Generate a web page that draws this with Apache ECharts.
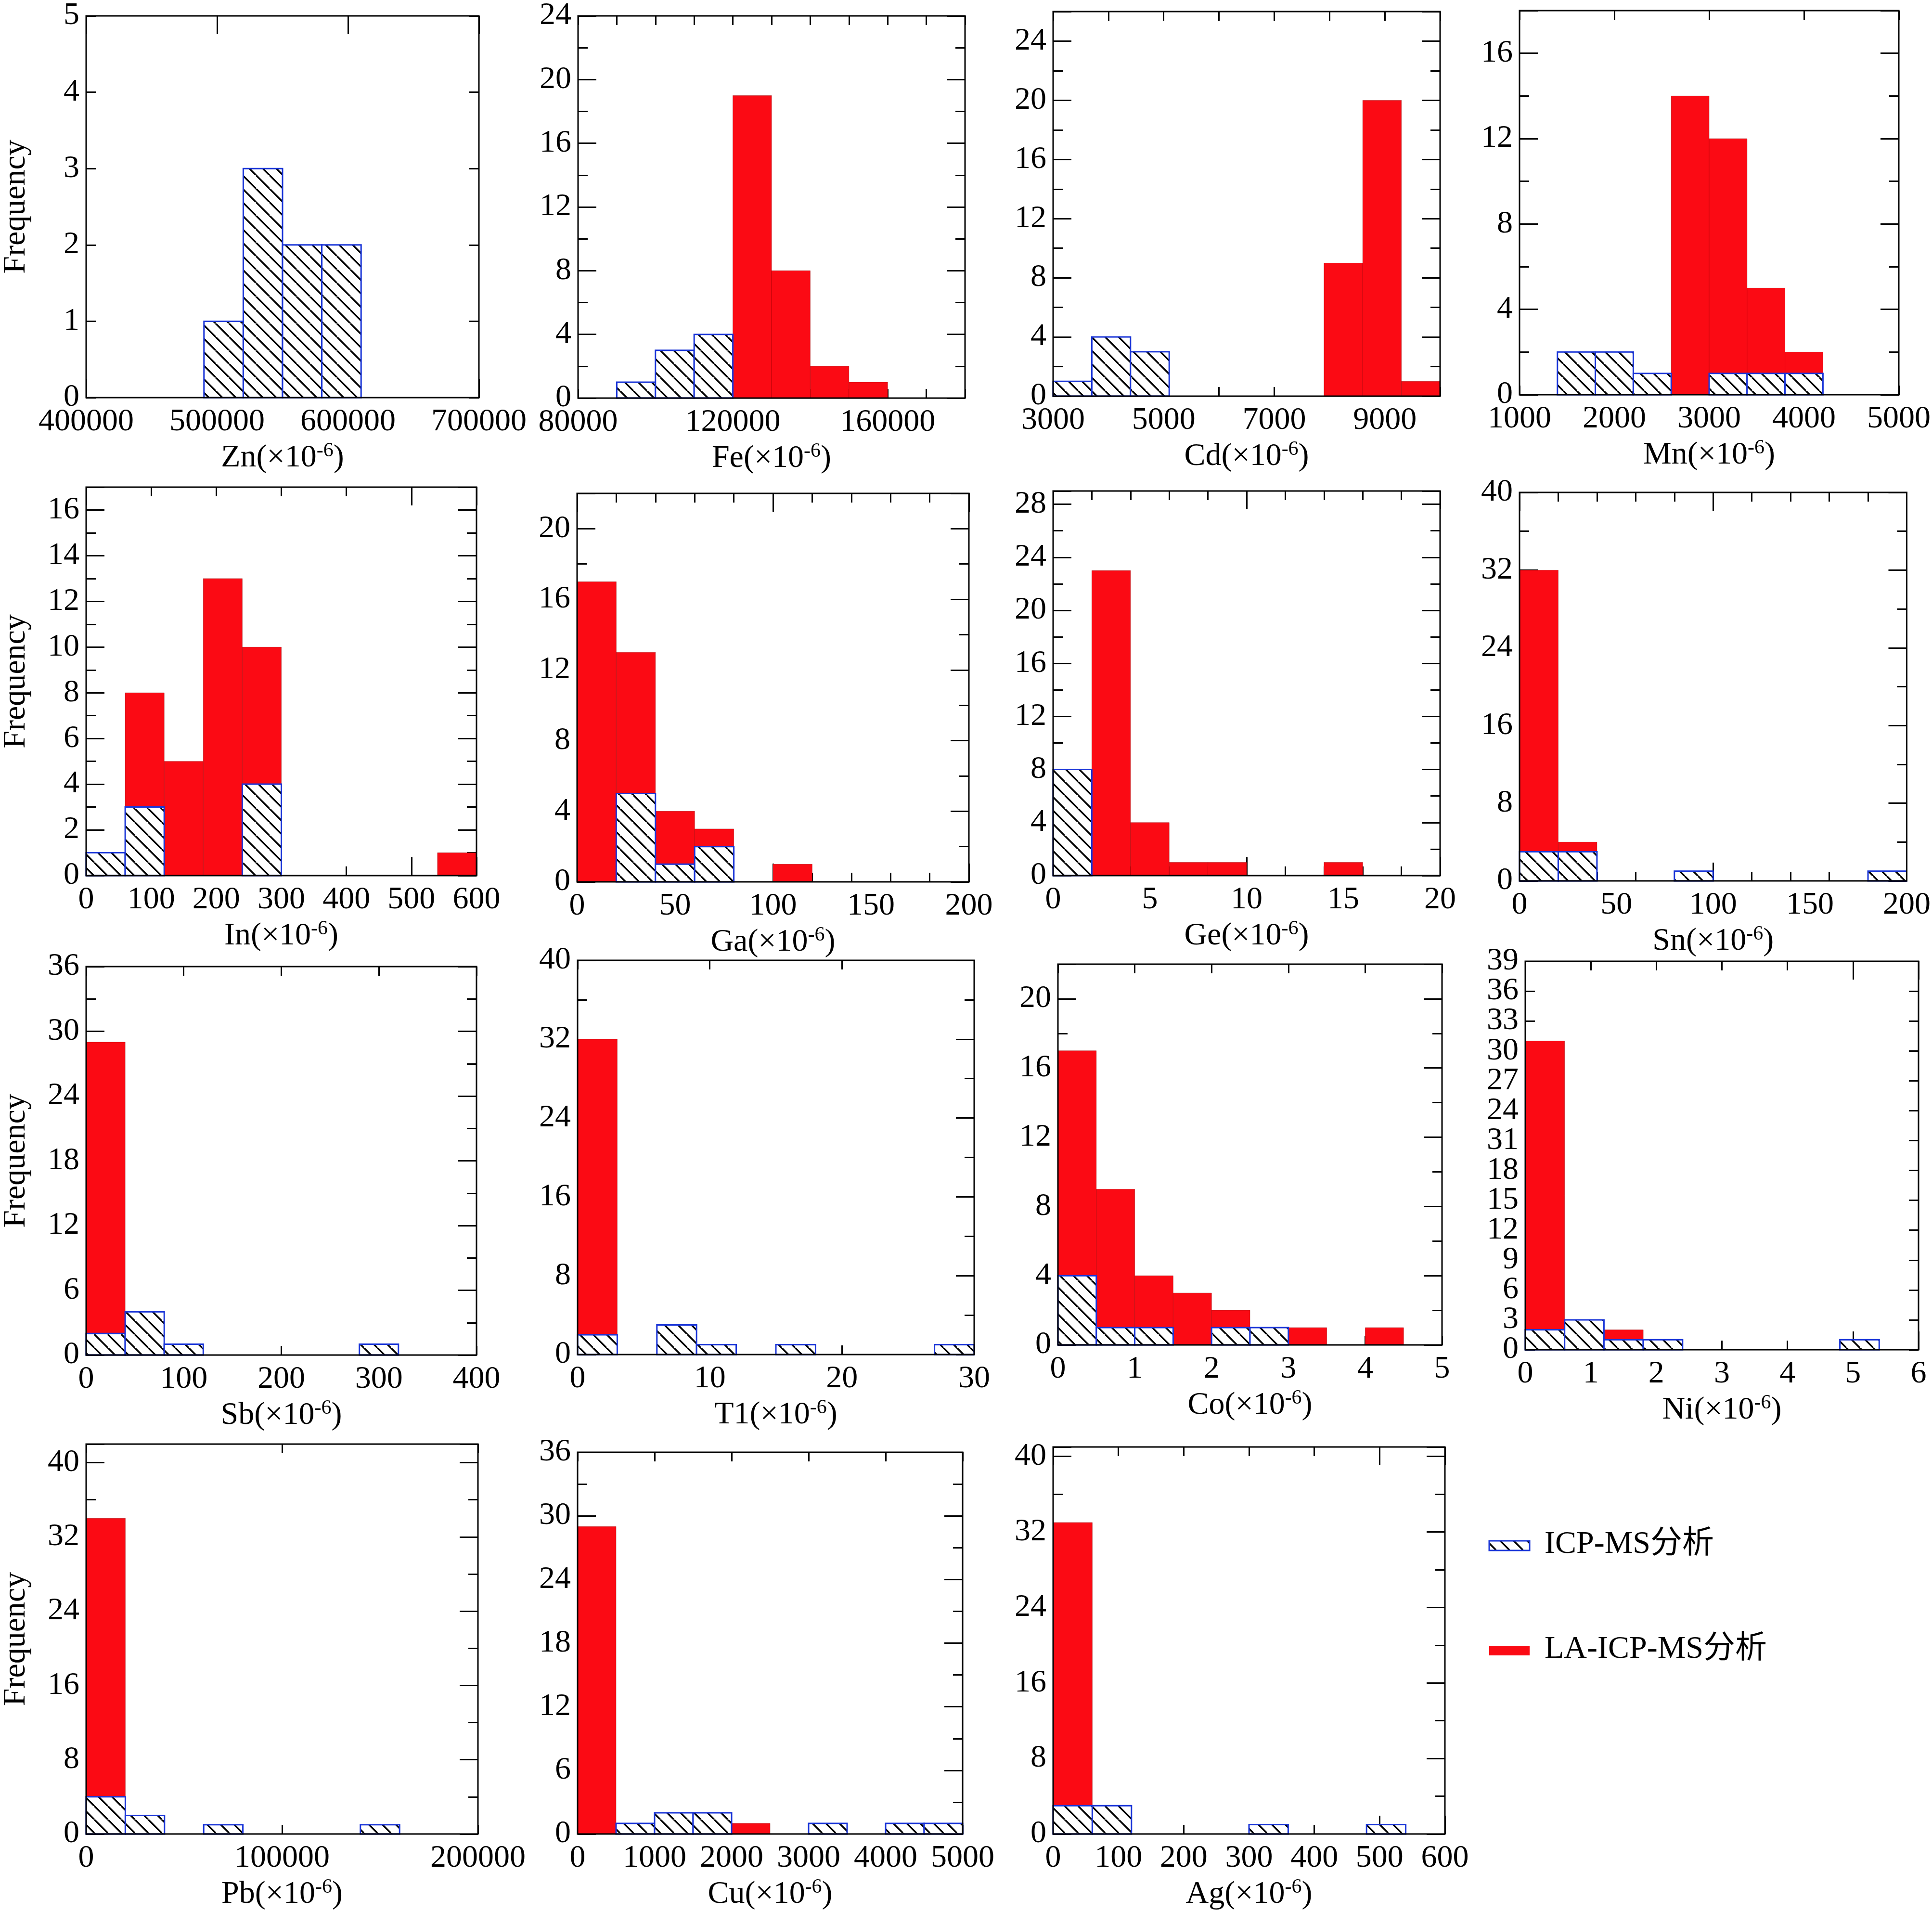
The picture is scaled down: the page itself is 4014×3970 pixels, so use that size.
<!DOCTYPE html>
<html>
<head>
<meta charset="utf-8">
<title>Element frequency histograms</title>
<script src="https://cdn.jsdelivr.net/npm/echarts@6/dist/echarts.min.js"></script>
<style>
html, body { margin: 0; padding: 0; background: #fff; }
#chart { width: 4014px; height: 3970px; }
</style>
</head>
<body>
<div id="chart"></div>
<script>
// bin start, bin width, counts per bin (ICP-MS = hatched, LA-ICP-MS = red)
var znStart = 490000, znWidth = 30000;
var znICP = [1, 3, 2, 2];
var znLA = [];

var feStart = 90000, feWidth = 10000;
var feICP = [1, 3, 4];
var feLA = [0, 0, 0, 19, 8, 2, 1];

var cdStart = 3000, cdWidth = 700;
var cdICP = [1, 4, 3];
var cdLA = [0, 0, 0, 0, 0, 0, 0, 9, 20, 1];

var mnStart = 1400, mnWidth = 400;
var mnICP = [2, 2, 1, 0, 1, 1, 1];
var mnLA = [0, 0, 0, 14, 12, 5, 2];

var inStart = 0, inWidth = 60;
var inICP = [1, 3, 0, 0, 4];
var inLA = [0, 8, 5, 13, 10, 0, 0, 0, 0, 1];

var gaStart = 0, gaWidth = 20;
var gaICP = [0, 5, 1, 2];
var gaLA = [17, 13, 4, 3, 0, 1];

var geStart = 0, geWidth = 2;
var geICP = [8];
var geLA = [0, 23, 4, 1, 1, 0, 0, 1];

var snStart = 0, snWidth = 20;
var snICP = [3, 3, 0, 0, 1, 0, 0, 0, 0, 1];
var snLA = [32, 4];

var sbStart = 0, sbWidth = 40;
var sbICP = [2, 4, 1, 0, 0, 0, 0, 1];
var sbLA = [29];

var tlStart = 0, tlWidth = 3;
var tlICP = [2, 0, 3, 1, 0, 1, 0, 0, 0, 1];
var tlLA = [32];

var coStart = 0, coWidth = 0.5;
var coICP = [4, 1, 1, 0, 1, 1];
var coLA = [17, 9, 4, 3, 2, 0, 1, 0, 1];

var niStart = 0, niWidth = 0.6;
var niICP = [2, 3, 1, 1, 0, 0, 0, 0, 1];
var niLA = [31, 0, 2];

var pbStart = 0, pbWidth = 20000;
var pbICP = [4, 2, 0, 1, 0, 0, 0, 1];
var pbLA = [34];

var cuStart = 0, cuWidth = 500;
var cuICP = [0, 1, 2, 2, 0, 0, 1, 0, 1, 1];
var cuLA = [29, 0, 0, 0, 1];

var agStart = 0, agWidth = 60;
var agICP = [3, 3, 0, 0, 0, 1, 0, 0, 1];
var agLA = [33];

// y tick labels of the Ni panel, as printed
var niYLabels = ['0', '3', '6', '9', '12', '15', '18', '31', '24', '27', '30', '33', '36', '39'];

var legendNames = ['ICP-MS分析', 'LA-ICP-MS分析'];

// layout: box [left, top, right, bottom]; x [min, max, label step]; xt [tick step, length, minor split]; y [max, step, minor split, tick length]
var panels = [
  {n: 'Zn', box: [178, 17, 995, 826], x: [400000, 700000, 100000], xt: [100000, 38, 0], y: [5, 1, 0, 20], s: znStart, w: znWidth, icp: znICP, la: znLA, freq: true},
  {n: 'Fe', box: [1201, 27, 2005, 827], x: [80000, 180000, 40000], xt: [10000, 19, 0], y: [24, 4, 2, 38], s: feStart, w: feWidth, icp: feICP, la: feLA},
  {n: 'Cd', box: [2188, 24, 2992, 823], x: [3000, 10000, 2000], xt: [1000, 19, 0], y: [26, 4, 2, 38], s: cdStart, w: cdWidth, icp: cdICP, la: cdLA},
  {n: 'Mn', box: [3157, 22, 3962, 820], x: [1000, 5000, 1000], xt: [1000, 19, 0], y: [18, 4, 2, 38], s: mnStart, w: mnWidth, icp: mnICP, la: mnLA},
  {n: 'In', box: [174, 1012, 990, 1819], x: [0, 600, 100], xt: [500, 38, 5], y: [17, 2, 2, 38], s: inStart, w: inWidth, icp: inICP, la: inLA, freq: true},
  {n: 'Ga', box: [1199, 1025, 2013, 1832], x: [0, 200, 50], xt: [100, 38, 5], y: [22, 4, 2, 38], s: gaStart, w: gaWidth, icp: gaICP, la: gaLA},
  {n: 'Ge', box: [2188, 1020, 2992, 1819], x: [0, 20, 5], xt: [10, 38, 5], y: [29, 4, 2, 38], s: geStart, w: geWidth, icp: geICP, la: geLA},
  {n: 'Sn', box: [3157, 1023, 3970, 1830], x: [0, 200, 50], xt: [100, 38, 5], y: [40, 8, 2, 38], s: snStart, w: snWidth, icp: snICP, la: snLA},
  {n: 'Sb', box: [174, 2008, 990, 2815], x: [0, 400, 100], xt: [100, 19, 0], y: [36, 6, 2, 38], s: sbStart, w: sbWidth, icp: sbICP, la: sbLA, freq: true},
  {n: 'T1', box: [1200, 1995, 2024, 2814], x: [0, 30, 10], xt: [10, 19, 0], y: [40, 8, 2, 38], s: tlStart, w: tlWidth, icp: tlICP, la: tlLA},
  {n: 'Co', box: [2198, 2003, 2996, 2794], x: [0, 5, 1], xt: [1, 19, 0], y: [22, 4, 2, 38], s: coStart, w: coWidth, icp: coICP, la: coLA},
  {n: 'Ni', box: [3169, 1997, 3986, 2804], x: [0, 6, 1], xt: [5, 38, 5], y: [39, 3, 0, 20], s: niStart, w: niWidth, icp: niICP, la: niLA, yLabels: niYLabels},
  {n: 'Pb', box: [174, 3000, 993, 3814], x: [0, 200000, 100000], xt: [100000, 19, 0], y: [42, 8, 2, 38], s: pbStart, w: pbWidth, icp: pbICP, la: pbLA, freq: true},
  {n: 'Cu', box: [1200, 3017, 2000, 3815], x: [0, 5000, 1000], xt: [1000, 19, 0], y: [36, 6, 2, 38], s: cuStart, w: cuWidth, icp: cuICP, la: cuLA},
  {n: 'Ag', box: [2188, 3006, 3002, 3814], x: [0, 600, 100], xt: [500, 38, 5], y: [41, 8, 2, 38], s: agStart, w: agWidth, icp: agICP, la: agLA}
];

var FONT = "'Liberation Serif', 'Times New Roman', 'Noto Sans CJK SC', serif";
var FS = 66;
var RED = '#fb0a14';
var BLUE = '#1a35d8';

// hatch pattern for the ICP-MS bars
function makeHatch() {
  var S = 28;
  var c = document.createElement('canvas');
  c.width = S; c.height = S;
  var g = c.getContext('2d');
  g.fillStyle = '#fff';
  g.fillRect(0, 0, S, S);
  g.strokeStyle = '#000';
  g.lineWidth = 3.5;
  for (var k = -1; k <= 1; k++) {
    g.beginPath();
    g.moveTo(k * S, 0);
    g.lineTo(k * S + S, S);
    g.stroke();
  }
  return {image: c, repeat: 'repeat'};
}
var hatch = makeHatch();

function bins(start, width, counts) {
  var out = [];
  counts.forEach(function (c, k) {
    if (c > 0) out.push([start + k * width, start + (k + 1) * width, c]);
  });
  return out;
}

function barRenderer(fill, stroke, lw) {
  return function (params, api) {
    var p0 = api.coord([api.value(0), api.value(2)]);
    var p1 = api.coord([api.value(1), 0]);
    return {
      type: 'rect',
      shape: {x: p0[0], y: p0[1], width: p1[0] - p0[0], height: p1[1] - p0[1]},
      style: {fill: fill, stroke: stroke, lineWidth: lw}
    };
  };
}

function tickAxis(gi, pos, min, max, interval, len) {
  return {
    gridIndex: gi, type: 'value', position: pos, min: min, max: max, interval: interval,
    axisLine: {show: false, onZero: false},
    splitLine: {show: false},
    axisLabel: {show: false},
    axisTick: {show: true, inside: true, length: len, lineStyle: {color: '#000', width: 3}}
  };
}

// y label axis; parity picks every other label (used where labels sit tight)
function yLabelAxis(gi, yMax, yStep, labels, parity, showMin, showMax) {
  return {
    gridIndex: gi, type: 'value', position: 'left', min: 0, max: yMax, interval: yStep,
    axisLine: {show: false, onZero: false},
    axisTick: {show: false},
    splitLine: {show: false},
    axisLabel: {
      margin: 14, fontSize: FS, fontFamily: FONT, color: '#000',
      showMinLabel: showMin, showMaxLabel: showMax,
      formatter: function (v) {
        var k = Math.round(v / yStep);
        if (parity !== null && k % 2 !== parity) return '';
        return labels ? labels[k] : String(v);
      }
    }
  };
}

var grids = [], xAxes = [], yAxes = [], series = [];

panels.forEach(function (p, i) {
  var b = p.box;
  grids.push({
    left: b[0], top: b[1], width: b[2] - b[0], height: b[3] - b[1],
    show: true, z: 10, backgroundColor: 'transparent', borderColor: '#000', borderWidth: 3
  });

  var xMin = p.x[0], xMax = p.x[1], xStep = p.x[2];
  var xi = xAxes.length;
  xAxes.push({
    gridIndex: i, type: 'value', position: 'bottom', min: xMin, max: xMax, interval: xStep,
    axisLine: {show: false, onZero: false},
    axisTick: {show: false},
    splitLine: {show: false},
    axisLabel: {
      margin: 18, fontSize: FS, fontFamily: FONT, color: '#000',
      showMinLabel: true,
      showMaxLabel: (xMax - xMin) % xStep === 0,
      formatter: function (v) { return String(v); }
    },
    name: '{a|' + p.n + '(×10}{s|-6}{a|)}',
    nameLocation: 'middle', nameGap: 90,
    nameTextStyle: {
      rich: {
        a: {fontSize: FS, fontFamily: FONT, color: '#000', lineHeight: 72},
        s: {fontSize: 42, fontFamily: FONT, color: '#000', lineHeight: 42, verticalAlign: 'top'}
      }
    }
  });
  xAxes.push(tickAxis(i, 'bottom', xMin, xMax, p.xt[0], p.xt[1]));
  xAxes.push(tickAxis(i, 'top', xMin, xMax, p.xt[0], p.xt[1]));
  if (p.xt[2] > 0) {
    xAxes.push(tickAxis(i, 'bottom', xMin, xMax, p.xt[0] / p.xt[2], 19));
    xAxes.push(tickAxis(i, 'top', xMin, xMax, p.xt[0] / p.xt[2], 19));
  }

  var yMax = p.y[0], yStep = p.y[1];
  var yi = yAxes.length;
  var mainY;
  if (p.yLabels) {
    // dense labels: split into even and odd sets so none gets dropped
    mainY = yLabelAxis(i, yMax, yStep, p.yLabels, 0, true, false);
    yAxes.push(mainY);
    yAxes.push(yLabelAxis(i, yMax, yStep, p.yLabels, 1, false, true));
  } else {
    mainY = yLabelAxis(i, yMax, yStep, null, null, true, yMax % yStep === 0);
    yAxes.push(mainY);
  }
  if (p.freq) {
    mainY.name = 'Frequency';
    mainY.nameLocation = 'middle';
    mainY.nameGap = 112;
    mainY.nameTextStyle = {fontSize: FS, fontFamily: FONT, color: '#000'};
  }
  yAxes.push(tickAxis(i, 'left', 0, yMax, yStep, p.y[3]));
  yAxes.push(tickAxis(i, 'right', 0, yMax, yStep, p.y[3]));
  if (p.y[2] > 0) {
    yAxes.push(tickAxis(i, 'left', 0, yMax, yStep / p.y[2], 20));
    yAxes.push(tickAxis(i, 'right', 0, yMax, yStep / p.y[2], 20));
  }

  series.push({
    name: legendNames[1], type: 'custom', xAxisIndex: xi, yAxisIndex: yi,
    renderItem: barRenderer(RED, 'rgba(140,0,0,0.45)', 1),
    encode: {x: [0, 1], y: 2},
    data: bins(p.s, p.w, p.la), z: 2
  });
  series.push({
    name: legendNames[0], type: 'custom', xAxisIndex: xi, yAxisIndex: yi,
    renderItem: barRenderer(hatch, BLUE, 3),
    encode: {x: [0, 1], y: 2},
    data: bins(p.s, p.w, p.icp), z: 3
  });
});

var chart = echarts.init(document.getElementById('chart'));
chart.setOption({
  animation: false,
  backgroundColor: '#fff',
  grid: grids,
  xAxis: xAxes,
  yAxis: yAxes,
  series: series,
  graphic: [
    {type: 'rect', shape: {x: 3094, y: 3201, width: 84, height: 20}, style: {fill: hatch, stroke: BLUE, lineWidth: 3}},
    {type: 'text', x: 3209, y: 3209, style: {text: legendNames[0], fontSize: FS, fontFamily: FONT, fill: '#000', verticalAlign: 'middle'}},
    {type: 'rect', shape: {x: 3094, y: 3419, width: 84, height: 20}, style: {fill: RED}},
    {type: 'text', x: 3209, y: 3427, style: {text: legendNames[1], fontSize: FS, fontFamily: FONT, fill: '#000', verticalAlign: 'middle'}}
  ]
});
</script>
</body>
</html>
